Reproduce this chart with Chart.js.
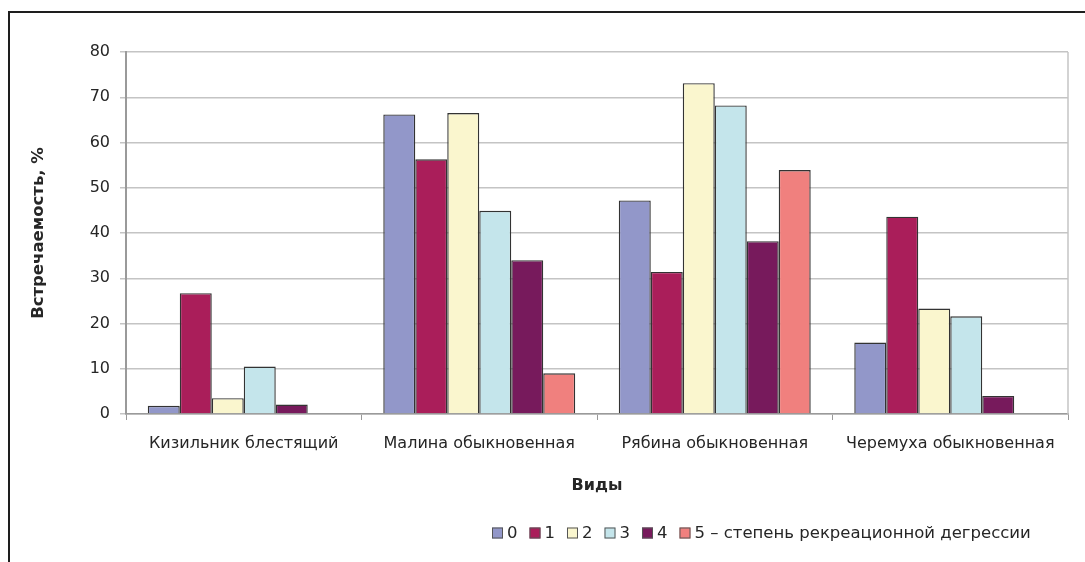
<!DOCTYPE html>
<html lang="ru">
<head>
<meta charset="utf-8">
<title>Встречаемость видов по степени рекреационной дегрессии</title>
<script src="https://cdn.jsdelivr.net/npm/chart.js@4.4.1/dist/chart.umd.min.js"></script>
<style>
  html, body { margin: 0; padding: 0; background: #fff; }
  #wrap { position: relative; width: 1085px; height: 562px; }
</style>
</head>
<body>
<div id="wrap"><canvas id="chart" width="1085" height="562"></canvas></div>
<script>
// Species (categories on the X axis)
const species = ['Кизильник блестящий', 'Малина обыкновенная', 'Рябина обыкновенная', 'Черемуха обыкновенная'];

// Occurrence, % for each degree of recreational degression (0–5)
const degree0 = [1.8, 66.2, 47.2, 15.8];
const degree1 = [26.7, 56.3, 31.4, 43.6];
const degree2 = [3.5, 66.5, 73.1, 23.3];
const degree3 = [10.5, 44.9, 68.2, 21.6];
const degree4 = [2.1, 34.0, 38.2, 4.0];
const degree5 = [null, 9.0, 53.9, null];

const seriesLabels = ['0', '1', '2', '3', '4', '5 – степень рекреационной дегрессии'];
const seriesColors = ['#9297C9', '#AA1E5A', '#FAF6CE', '#C4E5EB', '#771A5C', '#F0807E'];
const seriesValues = [degree0, degree1, degree2, degree3, degree4, degree5];

const yTicks = [0, 10, 20, 30, 40, 50, 60, 70, 80];

const FONT = "'DejaVu Sans', 'Liberation Sans', Arial, sans-serif";
const TEXT = '#262626';
const GRID = '#c4c4c4';
const EDGE = '#333333';

// Frame around the figure plus the right edge of the plot area
const framePlugin = {
  id: 'frame',
  afterDraw(chart) {
    const { ctx, chartArea } = chart;
    ctx.save();
    ctx.strokeStyle = GRID;
    ctx.lineWidth = 1.5;
    ctx.beginPath();
    ctx.moveTo(chartArea.right, chartArea.top);
    ctx.lineTo(chartArea.right, chartArea.bottom);
    ctx.stroke();

    ctx.strokeStyle = '#1e1e1e';
    ctx.lineWidth = 2;
    ctx.beginPath();
    ctx.moveTo(chart.width, 12);
    ctx.lineTo(9, 12);
    ctx.lineTo(9, chart.height);
    ctx.stroke();
    ctx.restore();
  }
};

// Single-row legend in the lower right corner
const legendPlugin = {
  id: 'rowLegend',
  afterDraw(chart) {
    const { ctx } = chart;
    const box = 11;
    const cy = 533;
    let x = 492;
    ctx.save();
    ctx.font = '16.5px ' + FONT;
    ctx.textBaseline = 'middle';
    ctx.textAlign = 'left';
    chart.data.datasets.forEach(ds => {
      ctx.fillStyle = ds.backgroundColor;
      ctx.fillRect(x, cy - box / 2, box, box);
      ctx.strokeStyle = '#555';
      ctx.lineWidth = 1;
      ctx.strokeRect(x + 0.5, cy - box / 2 + 0.5, box - 1, box - 1);
      x += box + 4;
      ctx.fillStyle = TEXT;
      ctx.fillText(ds.label, x, cy + 1);
      x += ctx.measureText(ds.label).width + 12;
    });
    ctx.restore();
  }
};

new Chart(document.getElementById('chart'), {
  type: 'bar',
  data: {
    labels: species,
    datasets: seriesValues.map((vals, i) => ({
      label: seriesLabels[i],
      data: vals,
      backgroundColor: seriesColors[i],
      borderColor: EDGE,
      borderWidth: 1.4,
      borderSkipped: 'bottom',
      categoryPercentage: 0.815,
      barPercentage: 1.0
    }))
  },
  options: {
    responsive: false,
    animation: false,
    devicePixelRatio: 1,
    layout: { padding: { left: 0, right: 17, top: 52, bottom: 0 } },
    plugins: {
      legend: { display: false },
      tooltip: { enabled: false }
    },
    scales: {
      x: {
        afterFit(scale) { scale.height = 148; },
        grid: { drawOnChartArea: false, drawTicks: true, tickLength: 6, color: '#999', lineWidth: 1 },
        border: { color: '#9a9a9a', width: 1.5 },
        ticks: { color: TEXT, font: { family: FONT, size: 16 }, padding: 14, maxRotation: 0 },
        title: {
          display: true, text: 'Виды', color: TEXT,
          font: { family: FONT, size: 16, weight: 'bold' },
          padding: { top: 0, bottom: 67 }
        }
      },
      y: {
        min: 0, max: 80,
        afterFit(scale) { scale.width = 126; },
        afterBuildTicks(scale) { scale.ticks = yTicks.map(v => ({ value: v })); },
        grid: { color: GRID, lineWidth: 1.5, tickLength: 6 },
        border: { color: '#9a9a9a', width: 2 },
        ticks: { color: TEXT, font: { family: FONT, size: 16 }, padding: 10 },
        title: {
          display: true, text: 'Встречаемость, %', color: TEXT,
          font: { family: FONT, size: 16.5, weight: 'bold' },
          padding: { top: 29, bottom: 0 }
        }
      }
    }
  },
  plugins: [framePlugin, legendPlugin]
});
</script>
</body>
</html>
